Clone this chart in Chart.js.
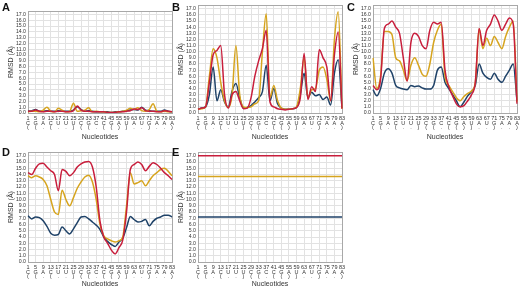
<!DOCTYPE html>
<html>
<head>
<meta charset="utf-8">
<script src="https://cdn.jsdelivr.net/npm/chart.js@4.4.1/dist/chart.umd.min.js"></script>
<style>
body { margin: 0; background: #fff; }
#wrap { position: relative; width: 520px; height: 289px; overflow: hidden; font-family: "Liberation Sans", Arial, sans-serif; }
canvas { position: absolute; }
.tag { position: absolute; font-weight: bold; font-size: 11px; line-height: 1; color: #111; }
</style>
</head>
<body>
<div id="wrap">
    <canvas id="chartA" width="176" height="145" style="left:0;top:0"></canvas>
    <canvas id="chartB" width="176" height="145" style="left:170px;top:0"></canvas>
    <canvas id="chartC" width="175" height="145" style="left:345px;top:0"></canvas>
    <canvas id="chartD" width="176" height="144" style="left:0;top:145px"></canvas>
    <canvas id="chartE" width="176" height="144" style="left:170px;top:145px"></canvas>
    <div class="tag" style="left:2px;top:2px">A</div>
    <div class="tag" style="left:172px;top:2px">B</div>
    <div class="tag" style="left:347px;top:2px">C</div>
    <div class="tag" style="left:2px;top:147px">D</div>
    <div class="tag" style="left:172px;top:147px">E</div>
</div>
<script>
// tick labels under the x axis (number / base / dot-bracket)
var nucleotideNums = ["1", "5", "9", "13", "17", "21", "25", "29", "33", "37", "41", "45", "55", "59", "63", "67", "71", "75", "79", "83"];
var nucleotideSeq = ["C", "G", "A", "C", "U", "U", "U", "C", "G", "C", "C", "G", "A", "U", "A", "U", "G", "A", "A", "A"];
var dotBracket = ["(", "(", ".", "(", ".", ".", ")", "(", "(", ".", "(", "(", ")", ")", ".", ".", ")", ".", ".", ")"];

// RMSD values, two samples per labelled tick
var aRed = [0.3,0.3,0.5,0.3,0.2,0.3,0.3,0.2,0.3,0.3,0.2,0.2,0.4,1.2,0.5,0.3,0.3,0.2,0.2,0.2,0.2,0.1,0.1,0.1,0.2,0.2,0.3,0.4,0.7,0.6,0.9,0.4,0.3,0.3,0.2,0.2,0.4,0.3,0.2];
var aGold = [0.2,0.3,0.3,0.2,0.5,1.0,0.3,0.2,0.8,0.5,0.2,0.3,1.7,0.3,0.4,0.5,0.9,0.2,0.3,0.2,0.2,0.1,0.1,0.1,0.2,0.3,0.5,0.8,0.6,0.9,0.4,0.3,0.6,1.6,0.3,0.2,0.3,0.2,0.2];
var aBlue = [0.3,0.4,0.6,0.3,0.3,0.4,0.3,0.3,0.4,0.3,0.3,0.3,0.5,1.1,0.6,0.3,0.4,0.3,0.2,0.2,0.2,0.2,0.1,0.2,0.2,0.3,0.4,0.5,0.6,0.5,1.0,0.5,0.4,0.3,0.3,0.3,0.5,0.3,0.2];

var bRed = [0.6,0.8,1.0,5.0,9.5,10.2,11.0,3.0,0.8,3.0,3.5,2.0,0.7,0.8,2.5,6.0,8.5,10.5,13.5,1.8,1.0,0.7,0.6,0.5,0.6,0.7,0.9,2.5,9.7,2.2,4.3,3.5,10.3,9.0,7.5,2.0,9.5,13.2,0.7];
var bGold = [0.6,0.7,1.0,6.0,10.5,9.0,5.0,2.0,0.9,3.0,11.0,3.0,1.0,0.9,1.0,1.5,2.0,10.0,16.2,2.5,4.5,2.0,0.8,0.6,0.6,0.7,1.0,4.0,9.0,2.5,3.8,4.0,7.0,7.5,5.5,2.0,12.0,16.5,0.7];
var bBlue = [0.6,0.8,1.0,3.0,7.5,2.0,3.8,1.8,1.0,3.6,4.8,2.5,0.8,0.9,1.2,1.8,2.5,3.5,7.8,2.0,4.0,1.5,0.8,0.6,0.6,0.7,0.9,3.0,6.5,2.5,3.4,2.8,3.0,2.2,2.6,1.3,6.5,8.7,0.8];

var cRed = [4.5,3.8,5.5,13.8,14.5,15.0,14.0,13.0,9.0,5.2,11.5,13.0,12.5,11.0,10.5,13.5,14.8,14.5,14.8,7.0,4.3,2.8,1.5,1.0,1.2,2.0,3.0,5.0,13.8,11.0,13.5,14.5,16.0,15.0,13.5,14.5,15.5,14.5,1.5];
var cGold = [9.0,4.0,6.0,13.3,13.3,12.8,9.0,8.5,7.0,5.3,7.8,9.0,7.8,6.3,6.0,8.0,11.5,13.5,14.5,6.0,4.5,3.5,2.5,2.0,2.7,3.2,3.6,5.0,13.7,10.5,12.2,11.0,12.5,11.5,10.5,12.5,14.0,15.0,1.8];
var cBlue = [3.8,2.8,4.0,6.5,7.2,6.5,4.5,4.1,3.9,3.8,4.5,4.3,4.4,4.1,3.9,3.9,4.5,7.0,7.5,5.0,4.0,3.0,2.0,1.0,1.8,2.8,3.5,4.5,8.0,6.5,5.8,5.5,6.5,5.5,5.0,6.0,7.0,8.0,2.0];

var dRed = [14.3,14.0,15.0,15.7,15.8,15.2,14.6,14.0,11.4,14.8,14.5,13.8,14.3,15.2,15.7,16.0,16.1,15.2,12.0,6.5,4.0,3.0,1.9,1.3,2.3,3.5,8.0,14.8,15.6,16.0,15.6,14.6,15.3,15.9,15.6,15.0,14.3,13.8,13.2];
var dGold = [13.8,13.5,13.8,13.6,13.2,12.2,10.0,8.0,7.6,11.5,10.0,9.0,10.3,11.8,12.8,13.6,13.9,12.8,10.0,6.0,4.2,3.7,3.4,3.2,3.4,4.0,9.0,14.3,12.5,12.7,13.0,12.2,13.0,13.8,14.3,14.8,15.0,14.5,13.8];
var dBlue = [7.4,6.9,7.2,7.1,6.6,5.7,4.6,4.3,4.4,5.6,5.0,4.5,5.3,6.3,7.2,7.3,6.9,6.4,5.9,5.2,4.0,3.3,2.8,2.5,3.2,3.8,5.5,7.3,6.8,6.4,6.5,6.8,5.8,6.5,7.0,7.2,7.5,7.5,7.2];

var eRed = [17.0,17.0,17.0,17.0,17.0,17.0,17.0,17.0,17.0,17.0,17.0,17.0,17.0,17.0,17.0,17.0,17.0,17.0,17.0,17.0,17.0,17.0,17.0,17.0,17.0,17.0,17.0,17.0,17.0,17.0,17.0,17.0,17.0,17.0,17.0,17.0,17.0,17.0,17.0];
var eGold = [13.7,13.7,13.7,13.7,13.7,13.7,13.7,13.7,13.7,13.7,13.7,13.7,13.7,13.7,13.7,13.7,13.7,13.7,13.7,13.7,13.7,13.7,13.7,13.7,13.7,13.7,13.7,13.7,13.7,13.7,13.7,13.7,13.7,13.7,13.7,13.7,13.7,13.7,13.7];
var eBlue = [7.2,7.2,7.2,7.2,7.2,7.2,7.2,7.2,7.2,7.2,7.2,7.2,7.2,7.2,7.2,7.2,7.2,7.2,7.2,7.2,7.2,7.2,7.2,7.2,7.2,7.2,7.2,7.2,7.2,7.2,7.2,7.2,7.2,7.2,7.2,7.2,7.2,7.2,7.2];

var RED = "#c81e3c";
var GOLD = "#d6a41e";
var BLUE = "#1f4268";
var FONT = "'Liberation Sans', Arial, sans-serif";

// category labels: every other sample carries a tick label
var labels = [];
for (var i = 0; i < aRed.length; i++) {
    if (i % 2 === 0) {
        labels.push([nucleotideNums[i / 2], nucleotideSeq[i / 2], dotBracket[i / 2]]);
    } else {
        labels.push("");
    }
}

var boxPlugin = {
    id: "box",
    beforeDatasetsDraw: function(chart) {
        var a = chart.chartArea;
        var ctx = chart.ctx;
        ctx.save();
        ctx.strokeStyle = "#a8a8a8";
        ctx.lineWidth = 1;
        ctx.strokeRect(Math.round(a.left) + 0.5, Math.round(a.top) + 0.5, Math.round(a.right - a.left), Math.round(a.bottom - a.top));
        ctx.restore();
    }
};

function makePanel(id, red, gold, blue, padTop, padRight, xHeight, padBottom) {
    var ctx = document.getElementById(id).getContext("2d");
    return new Chart(ctx, {
        type: "line",
        data: {
            labels: labels,
            datasets: [
                { label: "red", data: red, borderColor: RED },
                { label: "gold", data: gold, borderColor: GOLD },
                { label: "blue", data: blue, borderColor: BLUE }
            ]
        },
        plugins: [boxPlugin],
        options: {
            responsive: false,
            animation: false,
            layout: { padding: { top: padTop, right: padRight, bottom: padBottom, left: 0 } },
            plugins: { legend: { display: false }, tooltip: { enabled: false } },
            elements: {
                point: { radius: 0 },
                line: { borderWidth: 1.5, tension: 0.3, cubicInterpolationMode: "monotone", fill: false }
            },
            scales: {
                x: {
                    type: "category",
                    offset: false,
                    grid: {
                        color: function(c) { return c.index % 2 ? "rgba(0,0,0,0)" : "#e2e2e2"; },
                        drawTicks: false,
                        lineWidth: 1
                    },
                    border: { display: false },
                    ticks: {
                        autoSkip: false,
                        maxRotation: 0,
                        padding: 3,
                        color: "#333",
                        font: { size: 5.5, lineHeight: 0.85, family: FONT }
                    },
                    title: { display: true, text: "Nucleotides", color: "#333", padding: 0, font: { size: 7, family: FONT } },
                    afterFit: function(s) {
                        s.height = xHeight;
                        s.paddingLeft = 0;
                        s.paddingRight = 0;
                    }
                },
                y: {
                    min: 0,
                    max: 17.6,
                    grid: { color: "#e2e2e2", drawTicks: false },
                    border: { display: false },
                    ticks: {
                        autoSkip: false,
                        stepSize: 1,
                        includeBounds: false,
                        padding: 2,
                        color: "#333",
                        font: { size: 5.2, family: FONT },
                        callback: function(v) { return v.toFixed(1); }
                    },
                    title: { display: true, text: "RMSD (Å)", color: "#333", padding: { top: 7, bottom: 0 }, font: { size: 7, family: FONT } },
                    afterFit: function(s) { s.width = 28; }
                }
            }
        }
    });
}

makePanel("chartA", aRed, aGold, aBlue, 11, 4, 28, 4);
makePanel("chartB", bRed, bGold, bBlue, 4, 4, 28, 4);
makePanel("chartC", cRed, cGold, cBlue, 4, 3, 28, 4);
makePanel("chartD", dRed, dGold, dBlue, 7, 4, 26, 1);
makePanel("chartE", eRed, eGold, eBlue, 7, 4, 26, 1);
</script>
</body>
</html>
